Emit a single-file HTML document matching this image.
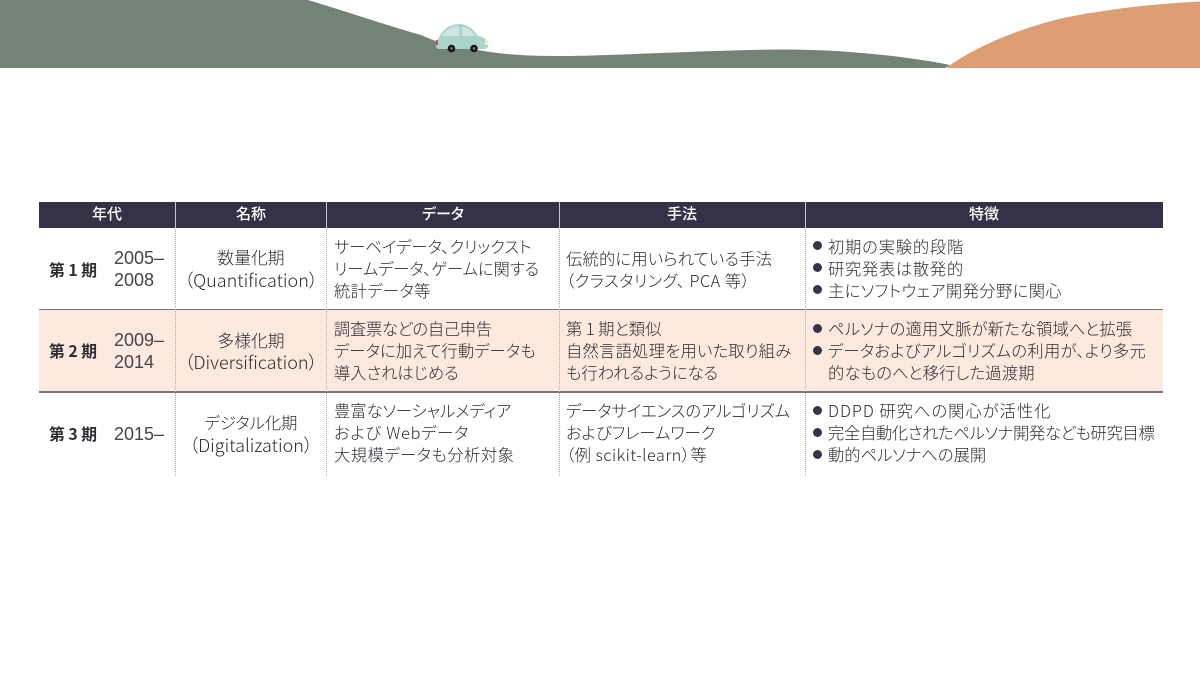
<!DOCTYPE html>
<html lang="ja"><head><meta charset="utf-8"><style>
html,body{margin:0;padding:0;background:#fff}
#p{position:relative;width:1200px;height:675px;overflow:hidden;background:#fff;font-family:"Liberation Sans","Noto Sans CJK JP",sans-serif;color:#2b2a32}
.t{position:absolute;white-space:nowrap;font-size:16.3px;line-height:22px;height:22px;font-weight:300;font-feature-settings:"palt";font-family:"Noto Sans CJK JP",sans-serif}
.c{transform:translateX(-50%)}
.l{font-family:"Liberation Sans","Noto Sans CJK JP",sans-serif;font-size:18px;font-weight:400;color:#45444c}
.h{color:#fff;font-size:15px;font-weight:500;top:203px}
.b{font-weight:700;font-size:15.8px;color:#2e2d36}
.n{font-size:18px}
.d{position:absolute;width:9px;height:9px;border-radius:50%;background:#35344a;left:813px}
.v{position:absolute;top:202px;width:0;height:274px;border-left:1px dotted #aaa}
.hv{position:absolute;top:202px;width:1px;height:26px;background:#c8c8d0}
</style></head><body><div id="p">
<svg style="position:absolute;left:0;top:0" width="1200" height="70" viewBox="0 0 1200 70">
<path d="M0 0H308C345 11 385 25 421 35C440 44 460 48 478 50C505 55 530 56 560 56C610 56 720 49.500 790 49.500C850 50 910 57 950 65L945 68H0Z" fill="#738375"/>
<path d="M946 68C975 47 1015 30 1059 19C1100 10 1150 4 1200 1.500V68Z" fill="#dd9e74"/>
<g>
<path d="M436 46C436 41 437 40 439 38C442 30 450 24 459 24C468 24 474 30 478 36C485 37 488 41 488 46C488 48 486 49 484 49H440C438 49 436 49 436 46Z" fill="#a9d3cb"/>
<path d="M442 36C445 30 451 26 459 26L459 36ZM462 27C468 27 472 31 475 36L462 36Z" fill="#cfe5e0"/>
<rect x="436" y="40" width="2" height="5" fill="#c4505a"/>
<ellipse cx="486.500" cy="42.500" rx="2" ry="3" fill="#f2efc8"/>
<circle cx="451.500" cy="48.500" r="3.800" fill="#151515"/><circle cx="451.500" cy="48.500" r="1.200" fill="#888"/>
<circle cx="474" cy="48.500" r="3.800" fill="#151515"/><circle cx="474" cy="48.500" r="1.200" fill="#888"/>
</g>
</svg>

<div style="position:absolute;left:38.500px;top:201.500px;width:1124.500px;height:26.500px;background:#343246"></div>
<div style="position:absolute;left:39px;top:310px;width:1124px;height:82px;background:#fde9de"></div>
<div style="position:absolute;left:39px;top:308.500px;width:1124px;height:1.500px;background:#77757c"></div>
<div style="position:absolute;left:39px;top:391px;width:1124px;height:1.500px;background:#77757c"></div>

<div class="v" style="left:175px"></div><div class="v" style="left:326px"></div><div class="v" style="left:559px"></div><div class="v" style="left:805px"></div>
<div class="hv" style="left:175px"></div><div class="hv" style="left:326px"></div><div class="hv" style="left:559px"></div><div class="hv" style="left:805px"></div>

<div class="t c h" style="left:107px">年代</div>
<div class="t c h" style="left:251px">名称</div>
<div class="t c h" style="left:443px">データ</div>
<div class="t c h" style="left:682px">手法</div>
<div class="t c h" style="left:984px">特徴</div>

<div class="t b" style="left:49px;top:258.500px">第 1 期</div>
<div class="t l" style="left:114px;top:247px">2005–</div>
<div class="t l" style="left:114px;top:269px">2008</div>
<div class="t c" style="left:251px;top:246px;font-size:16.800px">数量化期</div>
<div class="t c n" style="left:251px;top:269px">（Quantification）</div>
<div class="t" style="left:334px;top:235px">サーベイデータ、クリックスト</div>
<div class="t" style="left:334px;top:257px">リームデータ、ゲームに関する</div>
<div class="t" style="left:334px;top:279px;letter-spacing:.4px">統計データ等</div>
<div class="t" style="left:566px;top:247px;letter-spacing:.2px">伝統的に用いられている手法</div>
<div class="t" style="left:566px;top:269px;letter-spacing:.5px">（クラスタリング、 PCA 等）</div>
<div class="d" style="top:241px"></div><div class="t" style="left:828px;top:235px;letter-spacing:.8px">初期の実験的段階</div>
<div class="d" style="top:263px"></div><div class="t" style="left:828px;top:257px;letter-spacing:.7px">研究発表は散発的</div>
<div class="d" style="top:285px"></div><div class="t" style="left:828px;top:279px;letter-spacing:.4px">主にソフトウェア開発分野に関心</div>

<div class="t b" style="left:49px;top:340px">第 2 期</div>
<div class="t l" style="left:114px;top:329px">2009–</div>
<div class="t l" style="left:114px;top:351px">2014</div>
<div class="t c" style="left:251px;top:329px;font-size:16.800px">多様化期</div>
<div class="t c n" style="left:251px;top:351px">（Diversification）</div>
<div class="t" style="left:334px;top:317px;letter-spacing:-.3px">調査票などの自己申告</div>
<div class="t" style="left:334px;top:339px;letter-spacing:.15px">データに加えて行動データも</div>
<div class="t" style="left:334px;top:361px">導入されはじめる</div>
<div class="t" style="left:566px;top:317px">第 1 期と類似</div>
<div class="t" style="left:566px;top:339px;letter-spacing:.25px">自然言語処理を用いた取り組み</div>
<div class="t" style="left:566px;top:361px">も行われるようになる</div>
<div class="d" style="top:324px"></div><div class="t" style="left:828px;top:317px;letter-spacing:.2px">ペルソナの適用文脈が新たな領域へと拡張</div>
<div class="d" style="top:346px"></div><div class="t" style="left:828px;top:339px;letter-spacing:.3px">データおよびアルゴリズムの利用が、より多元</div>
<div class="t" style="left:828px;top:361px;letter-spacing:.2px">的なものへと移行した過渡期</div>

<div class="t b" style="left:49px;top:422.500px">第 3 期</div>
<div class="t l" style="left:114px;top:423px">2015–</div>
<div class="t c" style="left:251px;top:411px">デジタル化期</div>
<div class="t c n" style="left:251px;top:433.500px">（Digitalization）</div>
<div class="t" style="left:334px;top:399px">豊富なソーシャルメディア</div>
<div class="t" style="left:334px;top:421px;letter-spacing:.8px">および Webデータ</div>
<div class="t" style="left:334px;top:443px;letter-spacing:.5px">大規模データも分析対象</div>
<div class="t" style="left:566px;top:399px">データサイエンスのアルゴリズム</div>
<div class="t" style="left:566px;top:421px">およびフレームワーク</div>
<div class="t" style="left:566px;top:443px;letter-spacing:.5px">（例 scikit-learn）等</div>
<div class="d" style="top:406px"></div><div class="t" style="left:828px;top:399px;letter-spacing:1px">DDPD 研究への関心が活性化</div>
<div class="d" style="top:428px"></div><div class="t" style="left:828px;top:421px;letter-spacing:-.3px">完全自動化されたペルソナ開発なども研究目標</div>
<div class="d" style="top:450px"></div><div class="t" style="left:828px;top:443px">動的ペルソナへの展開</div>
</div></body></html>
